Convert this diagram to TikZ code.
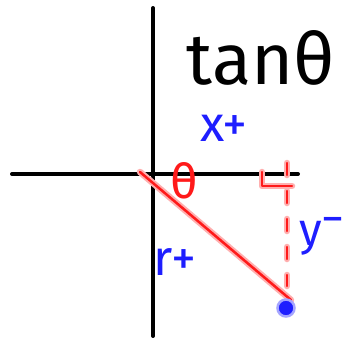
\documentclass[tikz,border=0pt]{standalone}
\usepackage{fontspec}
\setsansfont{Fira Sans}
\usepackage{tikz}
\usetikzlibrary{positioning,calc}
\definecolor{pen}{HTML}{FF1A1A}
\definecolor{marker}{HTML}{1E1EFF}

\tikzset{
  axis/.style={line width=4pt, black, line cap=round},
  redpen/.style={line width=2.5pt, pen, line cap=round, line join=round},
  redhalo/.style={line width=6.5pt, pen!35, line cap=round, line join=round},
  bluelabel/.style={font=\sffamily\fontsize{50}{50}\selectfont, text=marker, inner sep=0pt},
  bigtitle/.style={font=\sffamily\fontsize{72}{72}\selectfont, inner sep=0pt},
}

\begin{document}
\begin{tikzpicture}[x=1pt,y=-1pt]
  \useasboundingbox[fill=white] (0,0) rectangle (349,338);

  % axes
  \coordinate (ytop) at (153,8);
  \coordinate (ybot) at (153,336);
  \coordinate (xleft) at (12,174);
  \coordinate (xright) at (298,174);
  \draw[axis] (ytop) -- (ybot);
  \draw[axis] (xleft) -- (xright);

  % radius r and point
  \coordinate (orig) at (140,172);
  \coordinate (tip) at (291,300);
  \coordinate (foot) at (287,163);
  \coordinate (drop) at (287,286);
  \draw[redhalo] (orig) -- (tip);
  \draw[redpen] (orig) -- (tip);
  \draw[redhalo, dash pattern=on 12pt off 16pt] (foot) -- (drop);
  \draw[redpen, dash pattern=on 12pt off 16pt] (foot) -- (drop);

  % right angle mark
  \coordinate (rtop) at (262,172);
  \coordinate (rcorner) at (262,186);
  \coordinate (rend) at (292,186);
  \draw[redhalo] (rtop) -- (rcorner) -- (rend);
  \draw[redpen] (rtop) -- (rcorner) -- (rend);

  % angle
  \node (angle) [text=pen, font=\sffamily\fontsize{48}{48}\selectfont, inner sep=0pt] at (184,181) {θ};

  % the point
  \node (pt) [circle, fill=marker, draw=marker!40, line width=2.5pt, minimum size=17pt, inner sep=0pt] at (286,308) {};

  % title
  \node (title) [bigtitle] at (261,58) {tanθ};

  % labels
  \node (xlab) [bluelabel] at (224,128) {x+};
  \node (ylab) [bluelabel, font=\sffamily\fontsize{46}{46}\selectfont, anchor=west] at (299,236) {y\raisebox{11pt}{−}};
  \node (rlab) [bluelabel] at (175,262) {r+};
\end{tikzpicture}
\end{document}
